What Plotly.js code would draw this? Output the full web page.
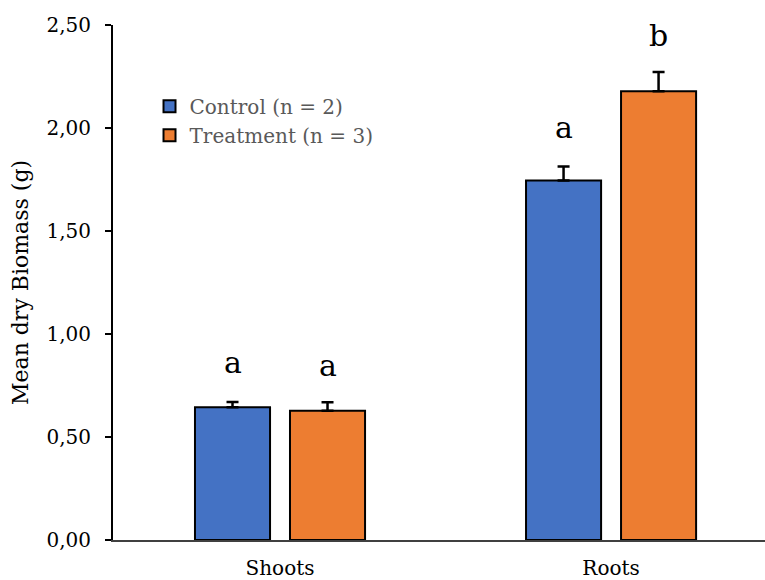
<!DOCTYPE html>
<html>
<head>
<meta charset="utf-8">
<script src="https://cdn.plot.ly/plotly-3.0.1.min.js"></script>
<style>body{margin:0;padding:0;background:#fff;}#chart{width:765px;height:580px;}</style>
</head>
<body>
<div id="chart"></div>
<script>
const categories = ["Shoots", "Roots"];
const seriesNames = ["Control (n = 2)", "Treatment (n = 3)"];
const controlMeans = [0.645, 1.745];
const controlErr = [0.025, 0.068];
const treatmentMeans = [0.627, 2.178];
const treatmentErr = [0.042, 0.094];
const controlLetters = ["a", "a"];
const treatmentLetters = ["a", "b"];
const yTicks = [0, 0.5, 1.0, 1.5, 2.0, 2.5];

const FONT = "DejaVu Serif, Liberation Serif, serif";
const colors = ["#4472C4", "#ED7D31"];

const W = 765, H = 580;
const margin = {l: 113, r: 0, t: 25, b: 40};
const xRange = [-0.5045, 1.465];
const bargap = 0.426, bargroupgap = 0.21;
const pxPerUnit = (W - margin.l - margin.r) / (xRange[1] - xRange[0]);
const slot = (1 - bargap) / 2;
const offsetPx = slot / 2 * pxPerUnit;

function barTrace(name, y, err, color) {
  return {
    type: "bar", name: name, x: categories, y: y,
    marker: {color: color, line: {color: "#000", width: 2}},
    error_y: {type: "data", array: err, arrayminus: err.map(() => 0), symmetric: false,
              color: "#000", thickness: 2.5, width: 6},
    hoverinfo: "skip"
  };
}

const traces = [
  barTrace(seriesNames[0], controlMeans, controlErr, colors[0]),
  barTrace(seriesNames[1], treatmentMeans, treatmentErr, colors[1])
];

const annotations = [];
categories.forEach((c, i) => {
  annotations.push({x: c, y: controlMeans[i] + controlErr[i], xref: "x", yref: "y",
    text: controlLetters[i], showarrow: false, xshift: -offsetPx, yanchor: "bottom", yshift: 20,
    font: {family: FONT, size: 30, color: "#000"}});
  annotations.push({x: c, y: treatmentMeans[i] + treatmentErr[i], xref: "x", yref: "y",
    text: treatmentLetters[i], showarrow: false, xshift: offsetPx, yanchor: "bottom", yshift: 17,
    font: {family: FONT, size: 30, color: "#000"}});
});

const layout = {
  width: W, height: H, margin: margin,
  paper_bgcolor: "#fff", plot_bgcolor: "#fff",
  separators: ", ",
  barmode: "group", bargap: bargap, bargroupgap: bargroupgap,
  font: {family: FONT, color: "#000"},
  showlegend: true,
  legend: {x: 0.056, y: 0.88, xanchor: "left", yanchor: "top",
           bgcolor: "rgba(0,0,0,0)", font: {family: FONT, size: 20, color: "#595959"},
           tracegroupgap: 0},
  xaxis: {type: "category", range: xRange, showline: true, linecolor: "#404040", linewidth: 2,
          ticks: "", showgrid: false, zeroline: false, fixedrange: true,
          tickfont: {family: FONT, size: 20, color: "#000"}, ticklabelstandoff: 9},
  yaxis: {range: [0, 2.5], tickvals: yTicks, tickformat: ".2f", showline: true,
          linecolor: "#000", linewidth: 2, ticks: "outside", ticklen: 6, tickwidth: 2,
          tickcolor: "#000", showgrid: false, zeroline: false,
          tickfont: {family: FONT, size: 20, color: "#000"}, ticklabelstandoff: 10,
          title: {text: "Mean dry Biomass (g)", font: {family: FONT, size: 22, color: "#000"}, standoff: 12}},
  annotations: annotations
};

Plotly.newPlot("chart", traces, layout, {displayModeBar: false, staticPlot: true});
</script>
</body>
</html>
